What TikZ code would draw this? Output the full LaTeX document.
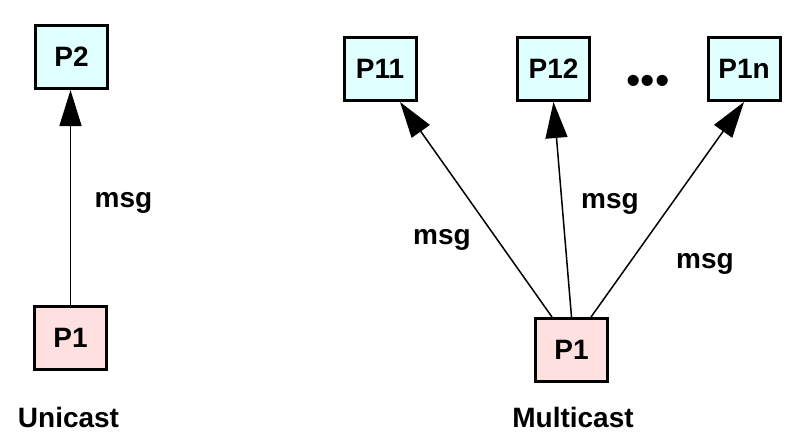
\documentclass[tikz,border=0pt]{standalone}
\usepackage{fontspec}
\setmainfont{Liberation Sans}
\usetikzlibrary{arrows.meta}
\definecolor{boxcyan}{RGB}{224,255,255}
\definecolor{boxpink}{RGB}{255,224,224}

\begin{document}
\begin{tikzpicture}[x=0.5pt,y=-0.5pt,
  procbox/.style={draw,line width=1.5pt,minimum width=36pt,minimum height=31.5pt,
    inner sep=0pt,font=\fontsize{14}{16}\selectfont\bfseries},
  lbl/.style={anchor=base,inner sep=0pt,font=\fontsize{14}{16}\selectfont\bfseries},
  msgarrow/.style={line width=0.75pt,-{Triangle[length=18pt,width=11pt]}}]
\useasboundingbox (0,0) rectangle (803,441);
% unicast
\node[procbox,fill=boxcyan] (p2) at (71.5,57) {P2};
\node[procbox,fill=boxpink] (p1u) at (70.5,338) {P1};
\draw[msgarrow] (p1u.north) -- (p1u.north |- p2.south);
\node[lbl] (msgu) at (123.5,207) {msg};
\node[lbl] (unicast) at (68.5,427) {Unicast};
% multicast
\node[procbox,fill=boxcyan] (p11) at (380,69) {P11};
\node[procbox,fill=boxcyan] (p12) at (553.5,69) {P12};
\node[procbox,fill=boxcyan] (p1n) at (744,69) {P1n};
\node[inner sep=0pt,font=\fontsize{20.5}{22}\selectfont] (dots) at (648,85) {•••};
\node[procbox,fill=boxpink] (p1m) at (571.5,350) {P1};
\draw[msgarrow] ([xshift=-9.75pt]p1m.north) -- ([xshift=10pt]p11.south);
\draw[msgarrow] (p1m.north) -- (p12.south);
\draw[msgarrow] ([xshift=9.75pt]p1m.north) -- (p1n.south);
\node[lbl] (msga) at (442,244) {msg};
\node[lbl] (msgb) at (610,208) {msg};
\node[lbl] (msgc) at (705,268) {msg};
\node[lbl] (multicast) at (573,427) {Multicast};
\end{tikzpicture}
\end{document}
